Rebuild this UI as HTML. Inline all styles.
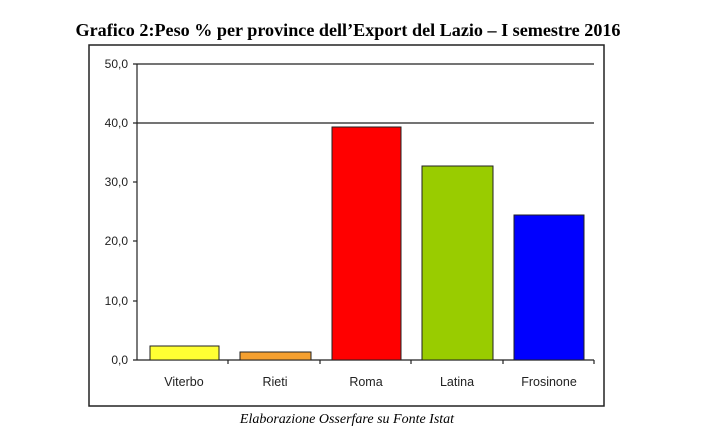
<!DOCTYPE html>
<html><head><style>body{margin:0;background:#fff}</style></head><body>
<svg width="702" height="442" xmlns="http://www.w3.org/2000/svg">
<text x="348" y="36" text-anchor="middle" font-family="Liberation Serif" font-weight="bold" font-size="18" textLength="545" lengthAdjust="spacingAndGlyphs">Grafico 2:Peso % per province dell’Export del Lazio – I semestre 2016</text>
<rect x="89" y="45" width="515" height="361" fill="none" stroke="#222" stroke-width="1.5"/>
<g stroke="#222" stroke-width="1.2">
<line x1="133" y1="64" x2="594" y2="64"/>
<line x1="133" y1="123" x2="594" y2="123"/>
<line x1="133" y1="182" x2="137" y2="182"/>
<line x1="133" y1="241" x2="137" y2="241"/>
<line x1="133" y1="301" x2="137" y2="301"/>
<line x1="133" y1="360" x2="594" y2="360"/>
<line x1="137" y1="64" x2="137" y2="360"/>
<line x1="228" y1="360" x2="228" y2="364"/>
<line x1="320" y1="360" x2="320" y2="364"/>
<line x1="411" y1="360" x2="411" y2="364"/>
<line x1="503" y1="360" x2="503" y2="364"/>
<line x1="594" y1="360" x2="594" y2="364"/>
</g>
<g stroke="#222" stroke-width="1">
<rect x="150" y="346" width="69" height="14" fill="#ffff33"/>
<rect x="240" y="352" width="71" height="8" fill="#f5a030"/>
<rect x="332" y="127" width="69" height="233" fill="#ff0000"/>
<rect x="422" y="166" width="71" height="194" fill="#99cc00"/>
<rect x="514" y="215" width="70" height="145" fill="#0000ff"/>
</g>
<g font-family="Liberation Sans" font-size="12" fill="#222" text-anchor="end">
<text x="128" y="68">50,0</text><text x="128" y="127">40,0</text><text x="128" y="186">30,0</text>
<text x="128" y="245">20,0</text><text x="128" y="305">10,0</text><text x="128" y="364">0,0</text>
</g>
<g font-family="Liberation Sans" font-size="12.5" fill="#222" text-anchor="middle">
<text x="184" y="386">Viterbo</text><text x="275" y="386">Rieti</text><text x="366" y="386">Roma</text>
<text x="457" y="386">Latina</text><text x="549" y="386">Frosinone</text>
</g>
<text x="347" y="423" text-anchor="middle" font-family="Liberation Serif" font-style="italic" font-size="14">Elaborazione Osserfare su Fonte Istat</text>
</svg>
</body></html>
